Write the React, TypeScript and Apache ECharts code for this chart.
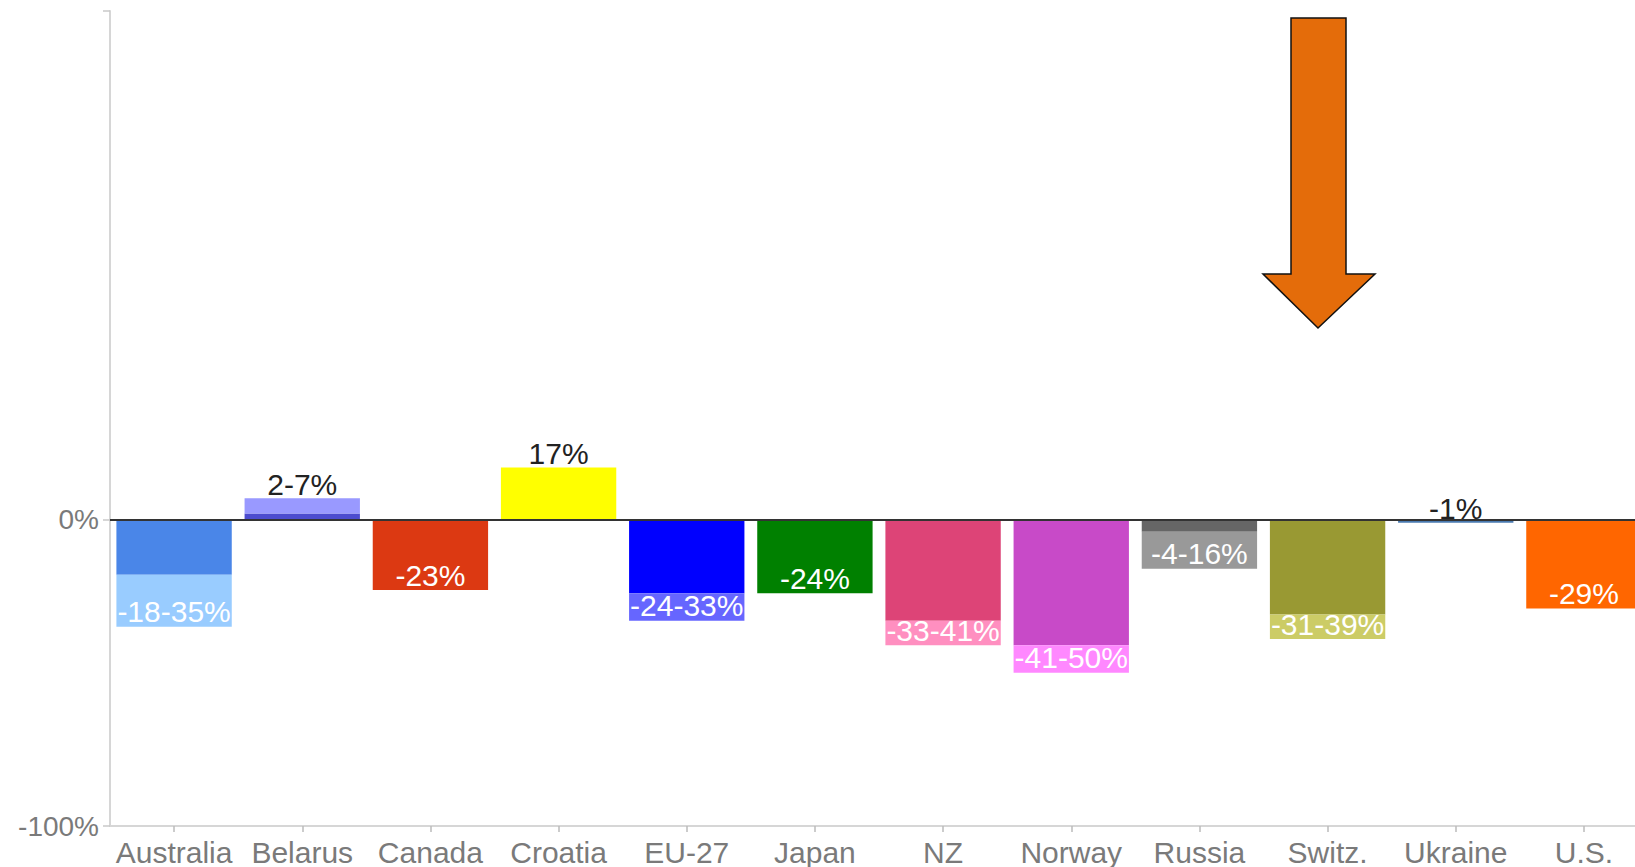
import React, { useEffect, useRef } from "react";
import * as echarts from "echarts";

const categories = ["Australia", "Belarus", "Canada", "Croatia", "EU-27", "Japan", "NZ", "Norway", "Russia", "Switz.", "Ukraine", "U.S."];
const lowValues = [-18, 2, -23, 17, -24, -24, -33, -41, -4, -31, -1, -29];
const highValues: (number | null)[] = [-35, 7, null, null, -33, null, -41, -50, -16, -39, null, null];
const mainColors = ["#4a86e8", "#4c4ccf", "#dc3912", "#ffff00", "#0000ff", "#008000", "#dd4477", "#c84ac8", "#666666", "#999933", "#4a7ab0", "#ff6600"];
const rangeColors = ["#99ccff", "#9999ff", "#dc3912", "#ffff00", "#6666ff", "#008000", "#ff8fc0", "#ff88ff", "#999999", "#cccc66", "#4a7ab0", "#ff6600"];
const yTickValues = [-100, 0, 166];
const yLabelValues = [-100, 0];
const yMin = -100;
const yMax = 166;

const FONT = "'Liberation Sans', Arial, Helvetica, sans-serif";

function labelText(i: number): string {
  const lo = lowValues[i];
  const hi = highValues[i];
  return hi == null ? `${lo}%` : `${lo}-${Math.abs(hi)}%`;
}

function labelFor(i: number) {
  const total = highValues[i] ?? lowValues[i];
  const outside = total > 0 || Math.abs(total) < 3;
  return {
    show: true,
    formatter: labelText(i),
    position: outside ? "top" : "insideBottom",
    distance: outside ? (total < 0 ? -4 : -1) : 0,
    color: outside ? "#222222" : "#ffffff",
    fontSize: 30,
    fontFamily: FONT,
  };
}

export default function App() {
  const ref = useRef<HTMLDivElement>(null);
  useEffect(() => {
    if (!ref.current) return;
    const chart = echarts.init(ref.current, null, { renderer: "svg" });
    const mainData = lowValues.map((v, i) => ({
      value: v,
      itemStyle: { color: mainColors[i] },
      label: highValues[i] == null ? labelFor(i) : { show: false },
    }));
    const rangeData = highValues.map((h, i) =>
      h == null
        ? { value: null as any }
        : {
            value: h - lowValues[i],
            itemStyle: { color: rangeColors[i] },
            label: labelFor(i),
          }
    );
    chart.setOption({
      animation: false,
      backgroundColor: "#ffffff",
      grid: { left: 110, right: 0, top: 11, bottom: 40, containLabel: false },
      xAxis: {
        type: "category",
        data: categories,
        axisLine: { onZero: false, lineStyle: { color: "#d6d6d6", width: 2 } },
        axisTick: { show: true, alignWithLabel: true, length: 6, lineStyle: { color: "#bbbbbb", width: 1.5 } },
        axisLabel: { interval: 0, color: "#7a7a7a", fontSize: 30, fontFamily: FONT, margin: 11 },
        splitLine: { show: false },
      },
      yAxis: {
        type: "value",
        min: yMin,
        max: yMax,
        axisLine: { show: true, lineStyle: { color: "#d6d6d6", width: 2 } },
        axisTick: { show: true, length: 7, customValues: yTickValues, lineStyle: { color: "#c8c8c8", width: 1.5 } },
        axisLabel: {
          customValues: yLabelValues,
          formatter: "{value}%",
          color: "#7a7a7a",
          fontSize: 28,
          fontFamily: FONT,
          margin: 11,
        },
        splitLine: { show: false },
      },
      series: [
        {
          type: "bar",
          stack: "total",
          barWidth: "90%",
          data: mainData,
          markLine: {
            silent: true,
            symbol: "none",
            label: { show: false },
            lineStyle: { color: "#333333", width: 2, type: "solid" },
            data: [{ yAxis: 0 }],
          },
        },
        {
          type: "bar",
          stack: "total",
          barWidth: "90%",
          data: rangeData,
        },
      ],
      graphic: [
        {
          type: "polygon",
          z: 100,
          shape: {
            points: [
              [1291, 18],
              [1346, 18],
              [1346, 274],
              [1375, 274],
              [1318, 328],
              [1263, 274],
              [1291, 274],
            ],
          },
          style: { fill: "#e46c0a", stroke: "#111111", lineWidth: 1.5 },
        },
      ],
    });
    return () => chart.dispose();
  }, []);
  return (
    <div style={{ position: "fixed", left: 0, top: 0, width: 1635, height: 867, overflow: "hidden", background: "#fff" }}>
      <div ref={ref} style={{ width: 1648, height: 867 }} />
    </div>
  );
}
